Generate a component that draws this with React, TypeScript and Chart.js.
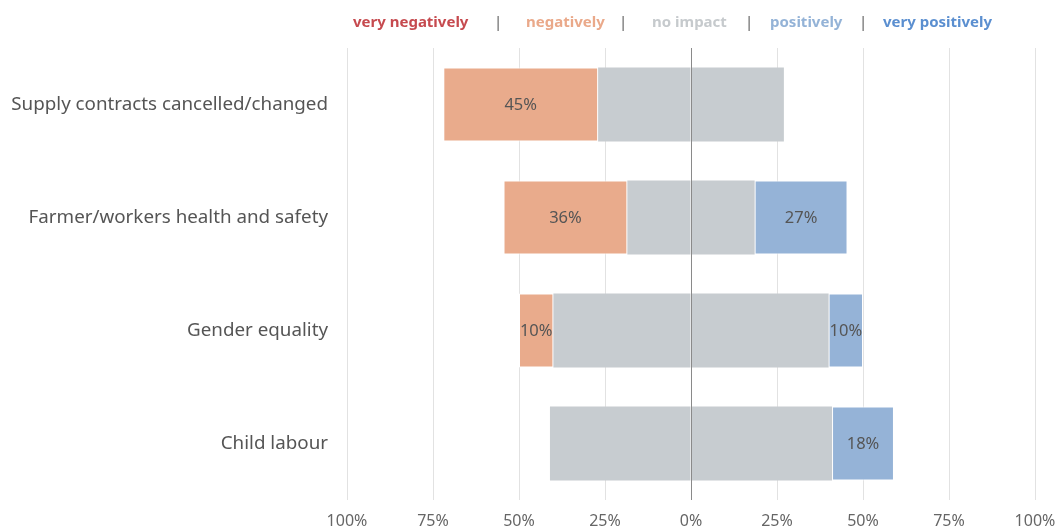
import React, { useEffect, useRef } from "react";
import { Chart, registerables } from "chart.js";

Chart.register(...registerables);

const categories = [
  "Supply contracts cancelled/changed",
  "Farmer/workers health and safety",
  "Gender equality",
  "Child labour",
];
const veryNegatively = [0, 0, 0, 0];
const negatively = [45, 36, 10, 0];
const noImpact = [54, 37, 80, 82];
const positively = [0, 27, 10, 18];
const veryPositively = [0, 0, 0, 0];

const xTicks = [-100, -75, -50, -25, 0, 25, 50, 75, 100];

const legendLabels = ["very negatively", "negatively", "no impact", "positively", "very positively"];
const legendColors = ["#c64a4f", "#eaa98a", "#c6cacd", "#94b3d7", "#5b8fd0"];

const FONT = "'Noto Sans', 'Open Sans', sans-serif";
const COL_NEG = "#e9ab8c";
const COL_NONE = "#c7ccd0";
const COL_POS = "#95b3d7";
const COL_VNEG = "#c64a4f";
const COL_VPOS = "#5b8fd0";

const legendPlugin = {
  id: "topLegend",
  afterDraw(chart: any) {
    const ctx = chart.ctx;
    ctx.save();
    ctx.font = `bold 15px ${FONT}`;
    ctx.textBaseline = "middle";
    ctx.textAlign = "left";
    const starts = [353, 526, 652, 770, 883];
    const seps = [498, 623, 749, 863];
    legendLabels.forEach((t, i) => {
      ctx.fillStyle = legendColors[i];
      ctx.fillText(t, starts[i], 23);
    });
    ctx.fillStyle = "#555";
    ctx.font = `14px ${FONT}`;
    ctx.textAlign = "center";
    seps.forEach((x) => ctx.fillText("|", x, 23));
    ctx.restore();
  },
};

const centerLinePlugin = {
  id: "centerLine",
  afterDatasetsDraw(chart: any) {
    const { ctx, chartArea, scales } = chart;
    const x = Math.round(scales.x.getPixelForValue(0)) + 0.5;
    ctx.save();
    ctx.strokeStyle = "#8a8a8a";
    ctx.lineWidth = 1;
    ctx.beginPath();
    ctx.moveTo(x, chartArea.top);
    ctx.lineTo(x, chartArea.bottom);
    ctx.stroke();
    ctx.restore();
  },
};

const valueLabelPlugin = {
  id: "valueLabels",
  afterDatasetsDraw(chart: any) {
    const ctx = chart.ctx;
    ctx.save();
    ctx.font = `16.5px ${FONT}`;
    ctx.fillStyle = "#555";
    ctx.textAlign = "center";
    ctx.textBaseline = "middle";
    chart.data.datasets.forEach((ds: any, di: number) => {
      if (!ds.showLabel) return;
      const meta = chart.getDatasetMeta(di);
      meta.data.forEach((bar: any, i: number) => {
        const v = Math.abs(ds.data[i]);
        if (!v) return;
        const { x, base, y } = bar.getProps(["x", "base", "y"], true);
        ctx.fillText(`${v}%`, (x + base) / 2, y + 1);
      });
    });
    ctx.restore();
  },
};

export default function App() {
  const ref = useRef<HTMLCanvasElement | null>(null);
  useEffect(() => {
    document.body.style.margin = "0";
    const half = noImpact.map((v) => v / 2);
    const common = {
      stack: "s",
      categoryPercentage: 0.82,
      barPercentage: 0.8,
      borderSkipped: false,
    };
    const chart = new Chart(ref.current as HTMLCanvasElement, {
      type: "bar",
      data: {
        labels: categories,
        datasets: [
          { ...common, label: "no impact", data: half.map((v) => -v), backgroundColor: COL_NONE, borderWidth: 0 },
          { ...common, label: "negatively", data: negatively.map((v) => -v), backgroundColor: COL_NEG, borderColor: "#fff", borderWidth: 1, showLabel: true },
          { ...common, label: "very negatively", data: veryNegatively.map((v) => -v), backgroundColor: COL_VNEG, borderColor: "#fff", borderWidth: 1, showLabel: true },
          { ...common, label: "no impact ", data: half, backgroundColor: COL_NONE, borderWidth: 0 },
          { ...common, label: "positively", data: positively, backgroundColor: COL_POS, borderColor: "#fff", borderWidth: 1, showLabel: true },
          { ...common, label: "very positively", data: veryPositively, backgroundColor: COL_VPOS, borderColor: "#fff", borderWidth: 1, showLabel: true },
        ] as any,
      },
      options: {
        indexAxis: "y",
        animation: false,
        responsive: false,
        maintainAspectRatio: false,
        layout: { padding: { top: 48, right: 23, left: 0, bottom: 0 } },
        plugins: { legend: { display: false }, tooltip: { enabled: false } },
        scales: {
          x: {
            stacked: true,
            min: -100,
            max: 100,
            afterBuildTicks: (s: any) => {
              s.ticks = xTicks.map((v) => ({ value: v }));
            },
            afterFit: (s: any) => {
              s.height = 32;
              s.paddingLeft = 0;
              s.paddingRight = 0;
            },
            border: { display: false },
            grid: {
              color: (c: any) => (c.tick && c.tick.value === 0 ? "#8a8a8a" : "#e2e2e2"),
              drawTicks: false,
              lineWidth: 1,
            },
            ticks: {
              padding: 12,
              color: "#666",
              font: { family: FONT, size: 16 },
              callback: (v: any) => `${Math.abs(Number(v))}%`,
              maxRotation: 0,
              autoSkip: false,
            },
          },
          y: {
            stacked: true,
            afterFit: (s: any) => {
              s.width = 347;
            },
            border: { display: false },
            grid: { display: false, drawTicks: false },
            ticks: {
              padding: 19,
              color: "#555",
              font: { family: FONT, size: 18.8 },
            },
          },
        },
      } as any,
      plugins: [centerLinePlugin, valueLabelPlugin, legendPlugin],
    });
    return () => chart.destroy();
  }, []);
  return <canvas ref={ref} width={1058} height={532} style={{ display: "block" }} />;
}
